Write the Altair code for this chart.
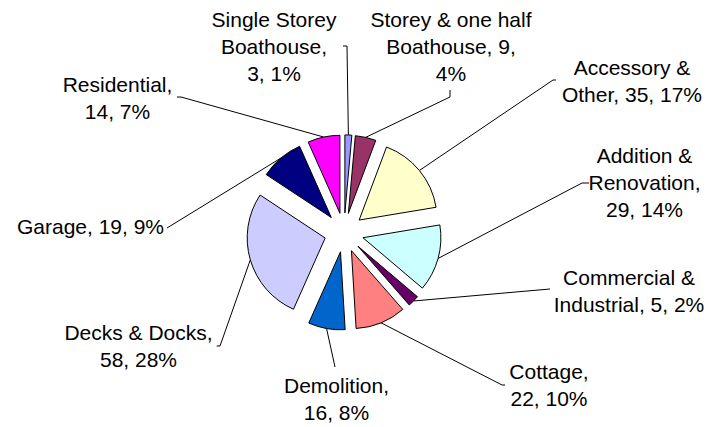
import math
import altair as alt
import pandas as pd

# ---------------- data ----------------
categories = [
    "Single Storey Boathouse",
    "Storey & one half Boathouse",
    "Accessory & Other",
    "Addition & Renovation",
    "Commercial & Industrial",
    "Cottage",
    "Demolition",
    "Decks & Docks",
    "Garage",
    "Residential",
]
counts = [3, 9, 35, 29, 5, 22, 16, 58, 19, 14]

# label wording split into lines ({v} = count, {p} = percent)
label_templates = [
    ["Single Storey", "Boathouse,", "{v}, {p}%"],
    ["Storey & one half", "Boathouse, {v},", "{p}%"],
    ["Accessory &", "Other, {v}, {p}%"],
    ["Addition &", "Renovation,", "{v}, {p}%"],
    ["Commercial &", "Industrial, {v}, {p}%"],
    ["Cottage,", "{v}, {p}%"],
    ["Demolition,", "{v}, {p}%"],
    ["Decks & Docks,", "{v}, {p}%"],
    ["Garage, {v}, {p}%"],
    ["Residential,", "{v}, {p}%"],
]

# ---------------- style / layout ----------------
colors = ["#9999FF", "#993366", "#FFFFCC", "#CCFFFF", "#660066",
          "#FF8080", "#0066CC", "#CCCCFF", "#000080", "#FF00FF"]
VIEW_W, VIEW_H = 703, 419
CX, CY = 336, 224.5          # pie centre inside the view (px)
R = 78                        # slice radius (px)
EXPLODE = 19.6                # explosion distance (px)
FONT = "Liberation Sans"
FS = 21
LH = 27

# label anchor (centre x, first baseline y) as offsets from pie centre, y up
label_pos = [(-70, 205.5), (107, 205.5), (288, 157.5), (300.5, 69.5), (285, -52.5),
             (205, -146.5), (-7.5, -160.5), (-205.5, -107.5), (-253.5, -1.5), (-226.5, 140.8)]
# leader line: end near label and elbow, offsets from pie centre, y up
leader_end = [(-1, 186.5), (106, 142.5), (212, 152.5), (245, 49.5), (206, -56.5),
              (161, -152.5), (-9, -134.5), (-127.3, -113.5), (-177, 4.5), (-167, 135.5)]
leader_elbow = [(3, 186.5), (106, 135.5), (209, 152.5), (238, 49.5), (206, -56.5),
                (158, -152.5), (-9, -134.5), (-124, -113.5), (-177, 4.5), (-163, 135.5)]

# ---------------- tables ----------------
total = sum(counts)
rows, text_rows, lead_rows = [], [], []
cum = 0
for i, (cat, v) in enumerate(zip(categories, counts)):
    start, end = cum, cum + v
    cum = end
    mid = (start + end) / 2 / total * 2 * math.pi
    p = round(v / total * 100)
    rows.append({"cat": cat, "start": start, "end": end,
                 "cx": EXPLODE * math.sin(mid), "cy": EXPLODE * math.cos(mid)})
    txt = "\n".join(t.format(v=v, p=p) for t in label_templates[i])
    text_rows.append({"cat": cat, "label": txt, "x": label_pos[i][0], "y": label_pos[i][1]})
    sx = (R + EXPLODE) * math.sin(mid)
    sy = (R + EXPLODE) * math.cos(mid)
    for k, (px, py) in enumerate([(sx, sy), leader_elbow[i], leader_end[i]]):
        lead_rows.append({"cat": cat, "k": k, "x": px, "y": py})

slices = pd.DataFrame(rows)
labels = pd.DataFrame(text_rows)
leaders = pd.DataFrame(lead_rows)

xs = alt.Scale(domain=[-CX, VIEW_W - CX], range=[0, VIEW_W])
ys = alt.Scale(domain=[-(VIEW_H - CY), CY], range=[VIEW_H, 0])

pie = alt.Chart(slices).mark_arc(radius=R, stroke="black", strokeWidth=1).encode(
    theta=alt.Theta("start:Q", stack=None,
                    scale=alt.Scale(domain=[0, total], range=[0, 2 * math.pi])),
    theta2="end:Q",
    x=alt.X("cx:Q", scale=xs, axis=None),
    y=alt.Y("cy:Q", scale=ys, axis=None),
    color=alt.Color("cat:N", scale=alt.Scale(domain=categories, range=colors), legend=None),
)

lines = alt.Chart(leaders).mark_line(color="black", strokeWidth=1).encode(
    x=alt.X("x:Q", scale=xs, axis=None),
    y=alt.Y("y:Q", scale=ys, axis=None),
    detail="cat:N",
    order="k:Q",
)

text = alt.Chart(labels).mark_text(
    font=FONT, fontSize=FS, lineHeight=LH, lineBreak="\n",
    align="center", baseline="alphabetic", color="black",
).encode(
    x=alt.X("x:Q", scale=xs, axis=None),
    y=alt.Y("y:Q", scale=ys, axis=None),
    text="label:N",
)

chart = alt.layer(lines, pie, text).properties(
    width=VIEW_W, height=VIEW_H, autosize="none", padding=0,
    background="white",
).configure_view(stroke=None)

chart.save("out.html", embed_options={"renderer": "svg", "actions": False})
